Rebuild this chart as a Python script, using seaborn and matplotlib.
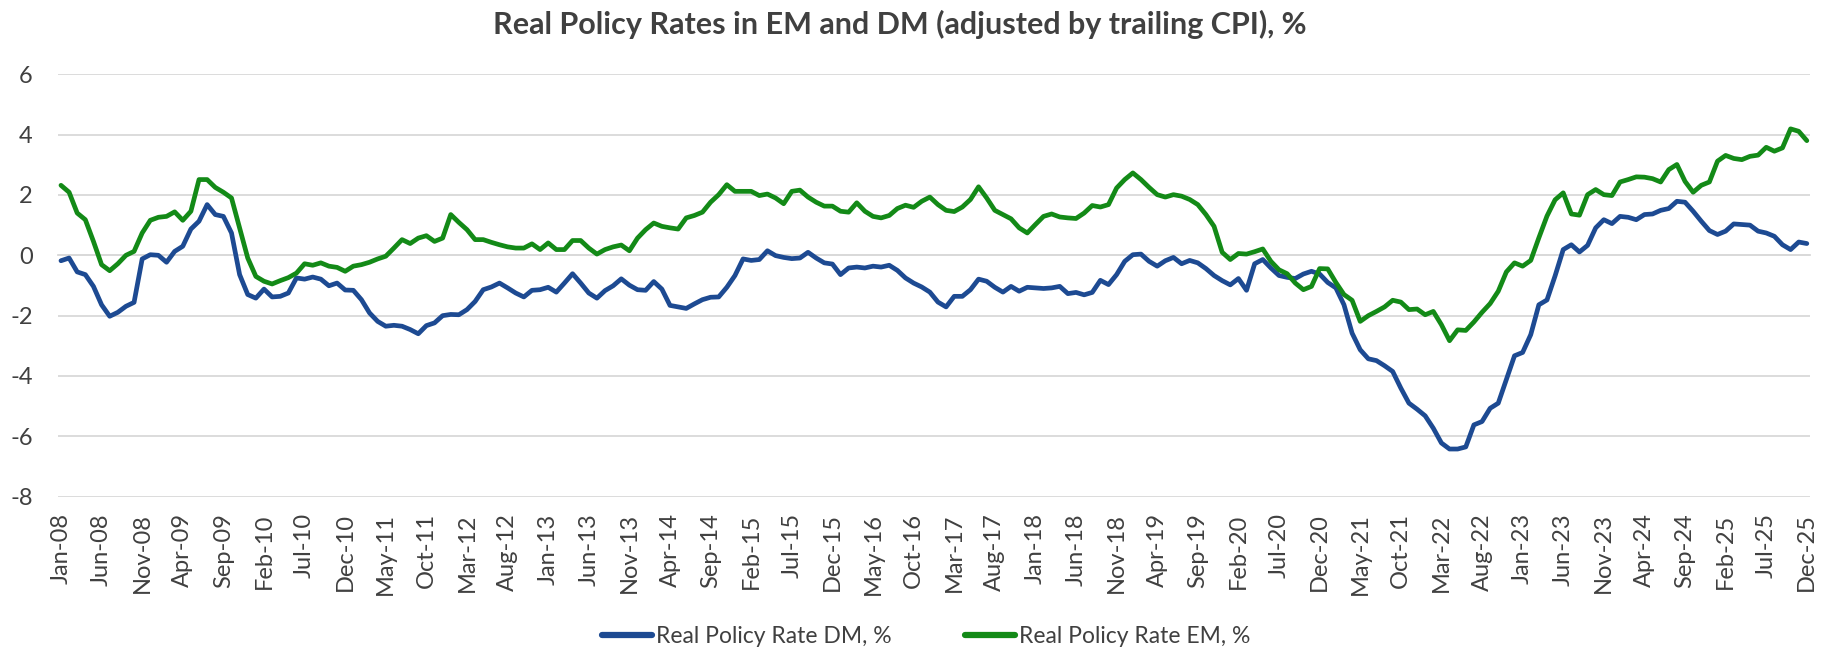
import numpy as np
import pandas as pd
import matplotlib
matplotlib.use("Agg")
import matplotlib.pyplot as plt
import seaborn as sns

# monthly data, Jan-08 .. Dec-25
months = pd.date_range("2008-01-01", periods=216, freq="MS").strftime("%b-%y").tolist()

dm_rate = [
    -0.18, -0.09, -0.55, -0.64, -1.03, -1.64, -2.02, -1.89, -1.69, -1.56,
    -0.12, 0.02, 0.0, -0.23, 0.13, 0.30, 0.87, 1.13, 1.68, 1.35,
    1.29, 0.74, -0.64, -1.30, -1.42, -1.12, -1.38, -1.36, -1.25, -0.75,
    -0.79, -0.72, -0.79, -1.01, -0.92, -1.15, -1.16,
    -1.47, -1.91, -2.19, -2.35, -2.32, -2.35, -2.46, -2.60, -2.33, -2.24,
    -2.00, -1.96, -1.97, -1.80, -1.53, -1.14, -1.05, -0.92, -1.08, -1.25,
    -1.38, -1.16, -1.14, -1.06, -1.22, -0.92, -0.61, -0.92, -1.25, -1.42,
    -1.17, -1.01, -0.78, -0.99, -1.14, -1.16,
    -0.87, -1.12, -1.66, -1.71, -1.76, -1.61, -1.47, -1.39, -1.38, -1.06,
    -0.67, -0.12, -0.17, -0.14, 0.15, -0.01, -0.07, -0.11, -0.09, 0.10,
    -0.09, -0.25, -0.29, -0.64, -0.42, -0.39, -0.42, -0.36, -0.39, -0.33,
    -0.50, -0.75, -0.92, -1.05, -1.22, -1.55, -1.71, -1.36,
    -1.36, -1.14, -0.79, -0.86, -1.06, -1.22, -1.03, -1.19, -1.06, -1.08,
    -1.10, -1.08, -1.03, -1.27, -1.23, -1.31, -1.23, -0.83, -0.97, -0.64,
    -0.20, 0.02, 0.04, -0.20, -0.36, -0.18, -0.07, -0.28, -0.17, -0.25,
    -0.44, -0.67, -0.84, -0.98, -0.77, -1.16, -0.28,
    -0.14, -0.42, -0.67, -0.73, -0.77, -0.62, -0.53, -0.62, -0.90, -1.08,
    -1.64, -2.58, -3.13, -3.43, -3.49, -3.66, -3.85, -4.40, -4.90, -5.10,
    -5.32, -5.73, -6.22, -6.42, -6.42, -6.35, -5.62, -5.51, -5.07, -4.90,
    -4.12, -3.33, -3.22, -2.63,
    -1.64, -1.48, -0.68, 0.19, 0.35, 0.11, 0.33, 0.91, 1.18, 1.05,
    1.29, 1.26, 1.18, 1.35, 1.37, 1.49, 1.55, 1.79, 1.76, 1.46,
    1.13, 0.82, 0.69, 0.80, 1.04, 1.02, 1.00, 0.80, 0.74, 0.63,
    0.35, 0.19, 0.44, 0.39,
]

em_rate = [
    2.32, 2.09, 1.40, 1.18, 0.46, -0.31, -0.51, -0.28, 0.0, 0.13,
    0.74, 1.16, 1.26, 1.29, 1.44, 1.16, 1.46, 2.51, 2.51, 2.25,
    2.09, 1.90, 0.91, -0.09, -0.70, -0.86, -0.95, -0.84, -0.74, -0.59,
    -0.28, -0.33, -0.25, -0.36, -0.40, -0.53, -0.36,
    -0.31, -0.23, -0.12, -0.03, 0.24, 0.52, 0.39, 0.57, 0.65, 0.46,
    0.57, 1.35, 1.09, 0.85, 0.52, 0.52, 0.43, 0.35, 0.28, 0.24,
    0.24, 0.38, 0.19, 0.41, 0.19, 0.19, 0.49, 0.49, 0.24, 0.04,
    0.19, 0.28, 0.34, 0.15, 0.57, 0.85,
    1.07, 0.96, 0.91, 0.87, 1.24, 1.32, 1.43, 1.76, 2.01, 2.34,
    2.12, 2.12, 2.12, 1.98, 2.03, 1.90, 1.71, 2.12, 2.16, 1.93,
    1.76, 1.63, 1.63, 1.46, 1.43, 1.74, 1.46, 1.29, 1.24, 1.32,
    1.55, 1.66, 1.59, 1.79, 1.93, 1.68, 1.49, 1.45,
    1.60, 1.85, 2.27, 1.90, 1.49, 1.35, 1.21, 0.91, 0.74, 1.02,
    1.29, 1.37, 1.27, 1.24, 1.22, 1.40, 1.65, 1.60, 1.68, 2.23,
    2.51, 2.73, 2.51, 2.25, 2.01, 1.93, 2.01, 1.96, 1.85, 1.68,
    1.35, 0.96, 0.10, -0.14, 0.06, 0.04, 0.12,
    0.21, -0.20, -0.48, -0.61, -0.92, -1.14, -1.03, -0.44, -0.45, -0.90,
    -1.30, -1.49, -2.19, -2.00, -1.86, -1.71, -1.49, -1.55, -1.80, -1.78,
    -1.97, -1.86, -2.30, -2.83, -2.47, -2.49, -2.21, -1.89, -1.60, -1.19,
    -0.55, -0.25, -0.36, -0.17,
    0.58, 1.30, 1.84, 2.07, 1.37, 1.33, 2.01, 2.18, 2.01, 1.98,
    2.43, 2.51, 2.60, 2.59, 2.54, 2.43, 2.84, 3.01, 2.45, 2.09,
    2.32, 2.43, 3.12, 3.31, 3.21, 3.17, 3.28, 3.32, 3.58, 3.45,
    3.56, 4.19, 4.11, 3.80,
]

series_names = ["Real Policy Rate DM, %", "Real Policy Rate EM, %"]
y_ticks = [-8, -6, -4, -2, 0, 2, 4, 6]

idx = np.arange(len(months))
df = pd.concat([
    pd.DataFrame({"idx": idx, "value": dm_rate, "series": series_names[0]}),
    pd.DataFrame({"idx": idx, "value": em_rate, "series": series_names[1]}),
])

sns.set_theme(style="white")
plt.rcParams["font.family"] = ["Lato", "DejaVu Sans"]
txt = "#404040"
grid_c = "#d9d9d9"

fig = plt.figure(figsize=(18.21, 6.52), dpi=100)
ax = fig.add_axes([0.0317, 0.2382, 0.9623, 0.6479])

pal = {series_names[0]: "#1d4a92", series_names[1]: "#138a17"}
sns.lineplot(data=df, x="idx", y="value", hue="series", hue_order=series_names,
             palette=pal, linewidth=3.4, ax=ax, zorder=3, legend=False)

ax.set_xlim(-0.4, 215.4)
ax.set_ylim(-8, 6)
ax.set_xlabel("")
ax.set_ylabel("")

# y axis
ax.set_yticks(y_ticks)
ax.set_yticklabels([str(v) for v in y_ticks], fontsize=17, color=txt)
ax.tick_params(axis="y", length=0, pad=18)
ax.grid(axis="y", color=grid_c, linewidth=1.3)
ax.set_axisbelow(True)
for s in ["top", "right", "left"]:
    ax.spines[s].set_visible(False)

# category axis line sits at zero, ticks between categories
ax.spines["bottom"].set_position(("data", 0))
ax.spines["bottom"].set_color(grid_c)
ax.spines["bottom"].set_linewidth(1.3)
ax.set_xticks([])
ax.set_xticks(np.arange(4.5, 215, 5), minor=True)
ax.tick_params(axis="x", which="minor", length=5, width=1.3, color=grid_c, direction="out")

# date labels at the bottom
sec = ax.secondary_xaxis("bottom")
sec.set_xticks(idx[::5])
sec.set_xticklabels(months[::5], rotation=90, fontsize=17, color=txt)
sec.tick_params(length=0, pad=12)
sec.spines["bottom"].set_visible(False)

fig.text(0.494, 0.962, "Real Policy Rates in EM and DM (adjusted by trailing CPI), %",
         ha="center", va="center", fontsize=22, fontweight="bold", color=txt)

handles = [plt.Line2D([], [], color=pal[n], linewidth=4.5, solid_capstyle="round") for n in series_names]
fig.legend(handles, series_names, loc="center", bbox_to_anchor=(0.5085, 0.0245),
           ncol=2, frameon=False, fontsize=16.5, handlelength=2.2, handletextpad=0.15,
           columnspacing=3.2, labelcolor=txt)

fig.savefig("out.png", dpi=100)
